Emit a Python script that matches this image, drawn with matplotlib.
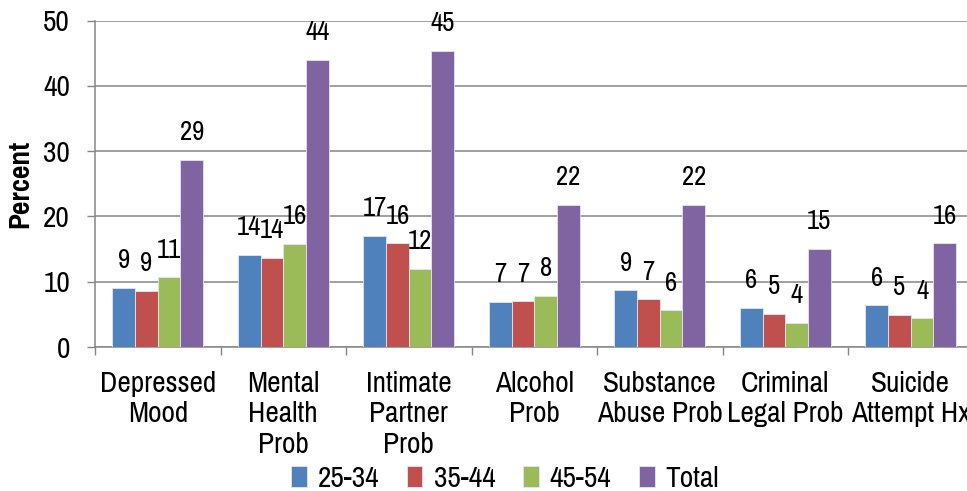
import numpy as np
import matplotlib
matplotlib.use("Agg")
from matplotlib import pyplot as plt
from matplotlib import font_manager

### Grouped bars, Excel-style, cut off at the right edge like the source.

categories = ["Depressed\nMood", "Mental\nHealth\nProb", "Intimate\nPartner\nProb",
              "Alcohol\nProb", "Substance\nAbuse Prob", "Criminal\nLegal Prob",
              "Suicide\nAttempt Hx"]
series_names = ["25-34", "35-44", "45-54", "Total"]
age_25_34 = [9.1, 14.1, 17.0, 6.9, 8.7, 6.0, 6.4]
age_35_44 = [8.6, 13.7, 15.9, 7.0, 7.3, 5.1, 4.9]
age_45_54 = [10.7, 15.8, 12.0, 7.8, 5.6, 3.7, 4.4]
total = [28.7, 44.0, 45.4, 21.8, 21.8, 15.0, 15.9]
yticks = [0, 10, 20, 30, 40, 50]

colors = ["#4F81BD", "#C0504D", "#9BBB59", "#8064A2"]

# narrow sans like the original, whichever one is around
have = set(f.name for f in font_manager.fontManager.ttflist)
wanted = ["Arial Narrow", "Liberation Sans Narrow", "Pragati Narrow", "PT Sans Narrow",
          "Archivo Narrow", "Roboto Condensed", "Liberation Sans"]
narrow = [f for f in wanted if f in have][0]
plt.rcParams['font.family'] = [narrow, 'DejaVu Sans']

fig = plt.figure(figsize=(9.67, 4.91), dpi=100)
ax = fig.add_axes([95/967, 144/491, 878.5/967, 326.5/491])

x = np.arange(len(categories))
w = 0.181
allSeries = [age_25_34, age_35_44, age_45_54, total]
for i in range(len(allSeries)):
    pos = x + (i - 1.5) * w
    ax.bar(pos, allSeries[i], width=w, color=colors[i], edgecolor="#e6e6f0",
           linewidth=0.6, label=series_names[i], zorder=3)
    for px, v in zip(pos, allSeries[i]):
        ax.annotate(f"{v:.0f}", (px, v), xytext=(0, 19.5), textcoords="offset points",
                    ha="center", va="center", fontsize=21, zorder=4)

ax.set_xlim(-0.5, len(categories) - 0.5)
ax.set_ylim(0, 50)
ax.set_yticks(yticks)
ax.tick_params(axis="y", labelsize=23, length=6, width=1, color="#868686", pad=12)
ax.set_xticks(x)
ax.set_xticklabels(categories, fontsize=23, linespacing=1.22)
ax.tick_params(axis="x", which="major", length=0, pad=17)
ax.set_xticks(np.arange(len(categories) + 1) - 0.5, minor=True)
ax.tick_params(axis="x", which="minor", length=6, width=1, color="#868686")

ax.grid(axis="y", color="#868686", linewidth=1.1, zorder=0)
for s in ["top", "right"]:
    ax.spines[s].set_visible(False)
for s in ["left", "bottom"]:
    ax.spines[s].set_color("#868686")
    ax.spines[s].set_linewidth(1.1)

ax.set_ylabel("Percent", fontsize=23, fontweight="bold")
ax.yaxis.set_label_coords(-(95 - 33) / 878.5, 0.5)

fig.legend(loc="center", bbox_to_anchor=(505/967, 1 - 479/491), ncol=4,
           frameon=False, fontsize=23, handlelength=0.5, handleheight=0.65,
           handletextpad=0.35, columnspacing=0.85)

fig.savefig("out.png", dpi=100)
